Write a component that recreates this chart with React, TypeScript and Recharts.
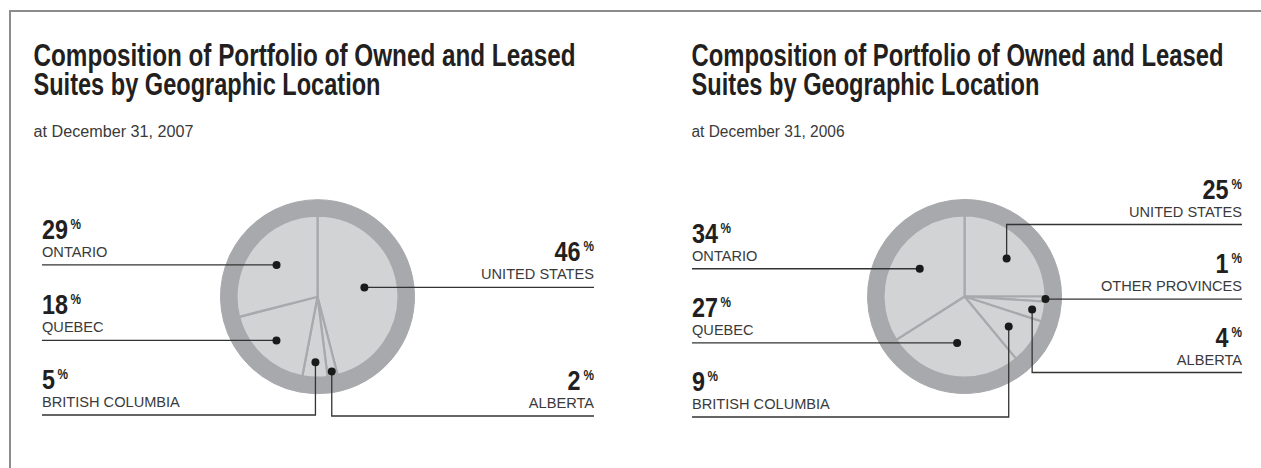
import { PieChart, Pie, Cell } from 'recharts';

// shares in percent, listed clockwise from 12 o'clock
const regions2007 = ['United States', 'Alberta', 'British Columbia', 'Quebec', 'Ontario'];
const shares2007 = [46, 2, 5, 18, 29];

const regions2006 = ['United States', 'Other Provinces', 'Alberta', 'British Columbia', 'Quebec', 'Ontario'];
const shares2006 = [25, 1, 4, 9, 27, 34];

const titleLines = ['Composition of Portfolio of Owned and Leased', 'Suites by Geographic Location'];
const subtitles = ['at December 31, 2007', 'at December 31, 2006'];

const RAD = Math.PI / 180;
const RING = '#a7a9ac';
const FILL = '#d1d3d4';
const INK = '#231f20';
const condensed = '"Liberation Sans Narrow", "Arial Narrow", "Liberation Sans", Arial, sans-serif';
const plain = '"Liberation Sans", Arial, sans-serif';

type Leader = { side: 'left' | 'right'; lineY?: number; r: number; nudge?: number };

// where each callout dot sits (fraction of pie radius) and where its rule runs
const leaders2007: Leader[] = [
  { side: 'right', r: 0.59, nudge: 4 },
  { side: 'right', lineY: 416, r: 0.94 },
  { side: 'left', lineY: 415, r: 0.81 },
  { side: 'left', r: 0.74 },
  { side: 'left', r: 0.64 },
];
const leaders2006: Leader[] = [
  { side: 'right', lineY: 224.5, r: 0.7, nudge: -3 },
  { side: 'right', r: 1.0 },
  { side: 'right', lineY: 372.5, r: 0.85 },
  { side: 'left', lineY: 417, r: 0.66 },
  { side: 'left', r: 0.58 },
  { side: 'left', r: 0.65, nudge: -3 },
];

const panels = [
  { x: 33.5, cx: 317.5, cy: 296.7, textLeft: 42, textRight: 594, w1: 542, w2: 347, ws: 160 },
  { x: 691.5, cx: 964.5, cy: 296.5, textLeft: 692, textRight: 1242, w1: 532, w2: 348, ws: 153 },
];

const makeLabel = (names: string[], leaders: Leader[], panel: typeof panels[0]) => (p: any) => {
  const { cx, cy, midAngle, outerRadius, index, value } = p;
  const L = leaders[index];
  const a = -(midAngle + (L.nudge || 0)) * RAD;
  const dx = cx + outerRadius * L.r * Math.cos(a);
  const dy = cy + outerRadius * L.r * Math.sin(a);
  const ly = L.lineY ?? dy;
  const xEnd = L.side === 'left' ? panel.textLeft : panel.textRight;
  const points = L.lineY == null
    ? `${dx},${dy} ${xEnd},${dy}`
    : `${dx},${dy} ${dx},${ly} ${xEnd},${ly}`;
  const numW = String(value).length * 13;
  const left = L.side === 'left';
  return (
    <g key={`lbl-${index}`}>
      <polyline points={points} fill="none" stroke="#333" strokeWidth={1.3} />
      <circle cx={dx} cy={dy} r={4} fill="#1a1a1a" />
      <text
        x={left ? xEnd : xEnd - 13.5}
        y={ly - 26}
        textAnchor={left ? 'start' : 'end'}
        fontFamily={condensed}
        fontWeight="bold"
        fontSize={28.5}
        fill={INK}
        textLength={numW}
        lengthAdjust="spacingAndGlyphs"
      >
        {value}
      </text>
      <text
        x={left ? xEnd + numW + 2.5 : xEnd}
        y={ly - 36}
        textAnchor={left ? 'start' : 'end'}
        fontFamily={condensed}
        fontWeight="bold"
        fontSize={14}
        fill={INK}
        textLength={10.5}
        lengthAdjust="spacingAndGlyphs"
      >
        %
      </text>
      <text
        x={xEnd}
        y={ly - 8}
        textAnchor={left ? 'start' : 'end'}
        fontFamily={plain}
        fontSize={14.6}
        fill="#3a3a3a"
      >
        {names[index].toUpperCase()}
      </text>
    </g>
  );
};

const toRows = (names: string[], vals: number[]) => names.map((name, i) => ({ name, value: vals[i] }));

export default function App() {
  const data2007 = toRows(regions2007, shares2007);
  const data2006 = toRows(regions2006, shares2006);
  const sets = [
    { data: data2007, names: regions2007, leaders: leaders2007 },
    { data: data2006, names: regions2006, leaders: leaders2006 },
  ];

  return (
    <div style={{ position: 'absolute', left: 0, top: 0, width: 1261, height: 468, background: '#fff' }}>
      <svg width={1261} height={468} style={{ position: 'absolute', left: 0, top: 0 }}>
        <line x1={10} y1={11} x2={1261} y2={11} stroke="#8c8c8c" strokeWidth={2} />
        <line x1={10} y1={10} x2={10} y2={468} stroke="#8c8c8c" strokeWidth={2} />
        {panels.map((pn, i) => (
          <g key={i}>
            <text x={pn.x} y={65.7} fontFamily={condensed} fontWeight="bold" fontSize={31} fill={INK}
              textLength={pn.w1} lengthAdjust="spacingAndGlyphs">{titleLines[0]}</text>
            <text x={pn.x} y={95} fontFamily={condensed} fontWeight="bold" fontSize={31} fill={INK}
              textLength={pn.w2} lengthAdjust="spacingAndGlyphs">{titleLines[1]}</text>
            <text x={pn.x} y={136.7} fontFamily={plain} fontSize={16} fill="#3a3a3a"
              textLength={pn.ws} lengthAdjust="spacingAndGlyphs">{subtitles[i]}</text>
          </g>
        ))}
      </svg>
      <div style={{ position: 'absolute', left: 0, top: 0 }}>
        <PieChart width={1261} height={468} margin={{ top: 0, right: 0, bottom: 0, left: 0 }}>
          {sets.map((s, i) => (
            <Pie
              key={`ring-${i}`}
              data={s.data}
              dataKey="value"
              cx={panels[i].cx}
              cy={panels[i].cy}
              innerRadius={80}
              outerRadius={97}
              startAngle={90}
              endAngle={-270}
              fill={RING}
              stroke={RING}
              strokeWidth={1}
              isAnimationActive={false}
              labelLine={false}
            />
          ))}
          {sets.map((s, i) => (
            <Pie
              key={`pie-${i}`}
              data={s.data}
              dataKey="value"
              cx={panels[i].cx}
              cy={panels[i].cy}
              innerRadius={0}
              outerRadius={81}
              startAngle={90}
              endAngle={-270}
              stroke={RING}
              strokeWidth={2.2}
              strokeLinejoin="round"
              isAnimationActive={false}
              labelLine={false}
              label={makeLabel(s.names, s.leaders, panels[i])}
            >
              {s.data.map((d) => (
                <Cell key={d.name} fill={FILL} />
              ))}
            </Pie>
          ))}
        </PieChart>
      </div>
    </div>
  );
}
